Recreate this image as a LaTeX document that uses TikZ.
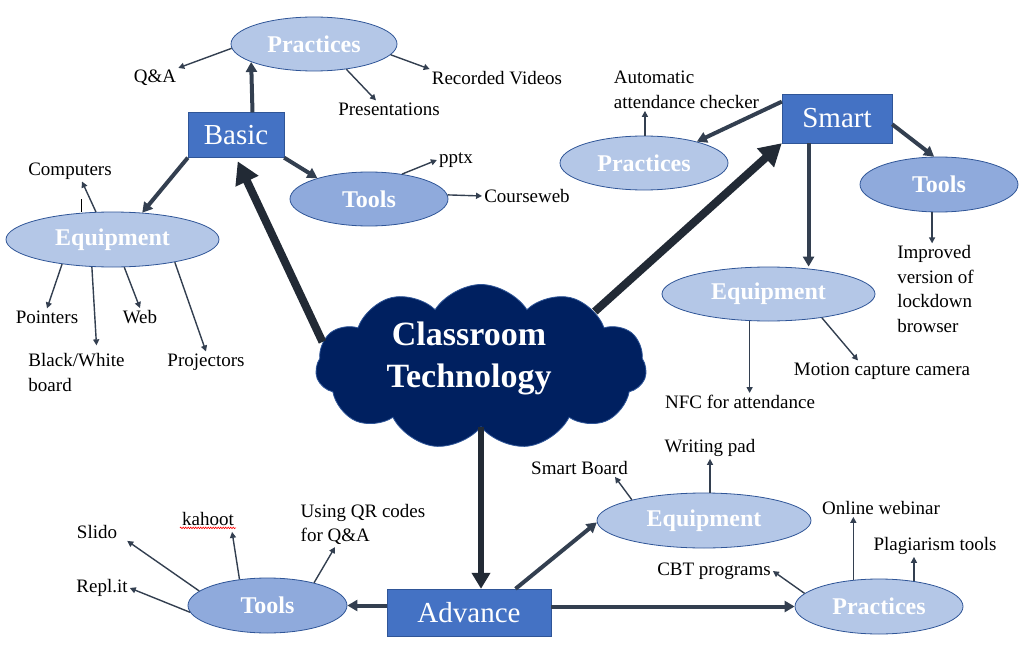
\documentclass[tikz,border=0pt]{standalone}
\usepackage{fontspec}
\setmainfont{Liberation Serif}
\usepackage{tikz}
\usetikzlibrary{positioning,shapes.geometric,shapes.symbols,arrows.meta,calc,decorations.pathmorphing}

\definecolor{hubfill}{HTML}{4472C4}
\definecolor{hubline}{HTML}{2F5597}
\definecolor{lightfill}{HTML}{B4C7E7}
\definecolor{midfill}{HTML}{8FAADC}
\definecolor{cloudfill}{HTML}{002060}
\definecolor{arrowc}{HTML}{333F50}
\definecolor{bigc}{HTML}{222A35}

\tikzset{
	lbl/.style={font=\fontsize{19}{24.5}\selectfont, inner sep=2pt, align=left},
	hub/.style={rectangle, draw=hubline, fill=hubfill, text=white, font=\fontsize{29}{34}\selectfont, inner sep=0pt},
	lightell/.style={ellipse, draw=hubline, line width=0.8pt, fill=lightfill, text=white, font=\fontsize{24}{28}\selectfont\bfseries, inner sep=0pt},
	midell/.style={lightell, fill=midfill},
	thinarr/.style={-{Triangle[length=6pt,width=6pt]}, line width=1.4pt, draw=arrowc},
	thickarr/.style={-{Triangle[length=10pt,width=11pt]}, line width=4pt, draw=arrowc},
	hugearr/.style={-{Triangle[length=22pt,width=24pt]}, line width=8pt, draw=bigc},
}

\begin{document}
\begin{tikzpicture}[x=1pt,y=-1pt]
		\useasboundingbox (0,0) rectangle (1020,650);
		
		% centre
		\node[cloud, cloud puffs=11, cloud puff arc=115, cloud ignores aspect, draw=hubline, line width=0.8pt, fill=cloudfill, minimum width=331, minimum height=165, inner sep=0pt] (cloud) at (481,367) {};
		\node[text=white, font=\fontsize{34}{42}\selectfont\bfseries, align=center] (ctext) at (469,358) {Classroom\\Technology};
		
		% basic
		\node[hub, minimum width=96, minimum height=45] (basic) at (236,135) {Basic};
		\node[lightell, minimum width=166, minimum height=54] (bpr) at (314,44) {Practices};
		\node[midell, minimum width=158, minimum height=54] (btl) at (369,199) {Tools};
		\node[lightell, minimum width=213, minimum height=55] (beq) at (112.5,239.5) {Equipment};
		\node[lbl] (qa) at (155,78) {Q\&A};
		\node[lbl] (rv) at (497,78) {Recorded Videos};
		\node[lbl] (pres) at (389,109) {Presentations};
		\node[lbl] (pptx) at (456,160) {pptx};
		\node[lbl] (cwb) at (527,196) {Courseweb};
		\node[lbl] (comp) at (70,171) {Computers};
		\node[lbl] (pointers) at (47,317) {Pointers};
		\node[lbl] (bw) at (76.5,372.5) {Black/White\\board};
		\node[lbl] (web) at (140,317) {Web};
		\node[lbl] (proj) at (206,362) {Projectors};
		
		% smart
		\node[hub, minimum width=110, minimum height=49] (smart) at (837,118.5) {Smart};
		\node[lightell, minimum width=168, minimum height=54] (spr) at (644,163) {Practices};
		\node[midell, minimum width=158, minimum height=55] (stl) at (939,184.5) {Tools};
		\node[lightell, minimum width=213, minimum height=54] (seq) at (768.5,294) {Equipment};
		\node[lbl] (aac) at (686.5,90) {Automatic\\attendance checker};
		\node[lbl] (imp) at (935.5,289) {Improved\\version of\\lockdown\\browser};
		\node[lbl] (nfc) at (740,402) {NFC for attendance};
		\node[lbl] (mcc) at (882,371) {Motion capture camera};
		
		% advance
		\node[hub, minimum width=164, minimum height=47] (adv) at (469,612.5) {Advance};
		\node[midell, minimum width=159, minimum height=55] (atl) at (267.5,605.5) {Tools};
		\node[lightell, minimum width=214, minimum height=55] (aeq) at (704,520.5) {Equipment};
		\node[lightell, minimum width=168, minimum height=55] (apr) at (879,606.5) {Practices};
		\node[lbl] (slido) at (97,532) {Slido};
		\node[lbl] (kahoot) at (208,519) {kahoot};
		\node[lbl] (qr) at (363,524.5) {Using QR codes\\for Q\&A};
		\node[lbl] (repl) at (102,588) {Repl.it};
		\node[lbl] (sb) at (579.5,468) {Smart Board};
		\node[lbl] (wp) at (710,448) {Writing pad};
		\node[lbl] (cbt) at (714,571) {CBT programs};
		\node[lbl] (ow) at (881,508) {Online webinar};
		\node[lbl] (plag) at (935,546) {Plagiarism tools};
		
		\draw[red, line width=0.6pt, decorate, decoration={snake, amplitude=0.8pt, segment length=2.5pt}] (kahoot.south west) -- (kahoot.south east);
		
		% main arrows
		\draw[hugearr, shorten >=4pt] (cloud.171) -- (basic.south);
		\draw[hugearr] (cloud.26) -- (smart.south west);
		\draw[-{Triangle[length=16pt,width=18pt]}, line width=5.5pt, draw=bigc] (cloud.south) -- (cloud.south |- adv.north);
		
		\draw[thickarr] (basic.54) -- (bpr.-164);
		\draw[thickarr] (basic.south east) -- (btl.158);
		\draw[thickarr] (basic.south west) -- (beq.42);
		\draw[thickarr] (smart.163) -- (spr.22);
		\draw[thickarr] (smart.-6) -- (stl.100);
		\draw[thickarr] (smart.-139) -- (smart.-139 |- seq.north);
		\draw[thickarr] (adv.west |- atl.east) -- (atl.east);
		\draw[thickarr] (adv.27) -- (aeq.181);
		\draw[thickarr] (adv.east |- apr.west) -- (apr.west);
		
		% leaves
		\draw[thinarr] (bpr.183) -- (qa.north east);
		\draw[thinarr] (bpr.-8) -- (rv.north west);
		\draw[thinarr] (bpr.-38) -- ($(pres.north)+(-13,0)$);
		\draw[thinarr] (btl.37) -- (pptx.west);
		\draw[thinarr] (btl.3) -- (cwb.west);
		\draw[thinarr] (beq.121) -- ($(comp.south)+(12,0)$);
		\draw[black, line width=0.8pt] ($(beq.north)+(-31,0)$) -- ++(0,-13);
		\draw[thinarr] (beq.-154) -- (pointers.north);
		\draw[thinarr] (beq.-127) -- ($(bw.north)+(20,-6)$);
		\draw[thinarr] (beq.-67) -- (web.north);
		\draw[thinarr] (beq.-20) -- (proj.north);
		
		\draw[thinarr] (spr.88) -- (spr.88 |- aac.south);
		\draw[thinarr] (stl.-104) -- (stl.-104 |- imp.north);
		\draw[thinarr] (seq.-125) -- (seq.-125 |- nfc.north);
		\draw[thinarr] (seq.-24) -- ($(mcc.north)+(-24,0)$);
		
		\draw[thinarr] (atl.168) -- ($(slido.south east)+(8,0)$);
		\draw[thinarr] (atl.137) -- ($(kahoot.south east)+(-4,4)$);
		\draw[thinarr] (atl.26) -- ($(qr.south)+(-28,0)$);
		\draw[thinarr] (atl.185) -- (repl.east);
		\draw[thinarr] (aeq.164) -- ($(sb.south east)+(-15,0)$);
		\draw[thinarr] (wp.south |- aeq.north) -- (wp.south);
		\draw[thinarr] (apr.170) -- (cbt.east);
		\draw[thinarr] (apr.134) -- (apr.134 |- ow.south);
		\draw[thinarr] (apr.36) -- (apr.36 |- plag.south);
\end{tikzpicture}
\end{document}
